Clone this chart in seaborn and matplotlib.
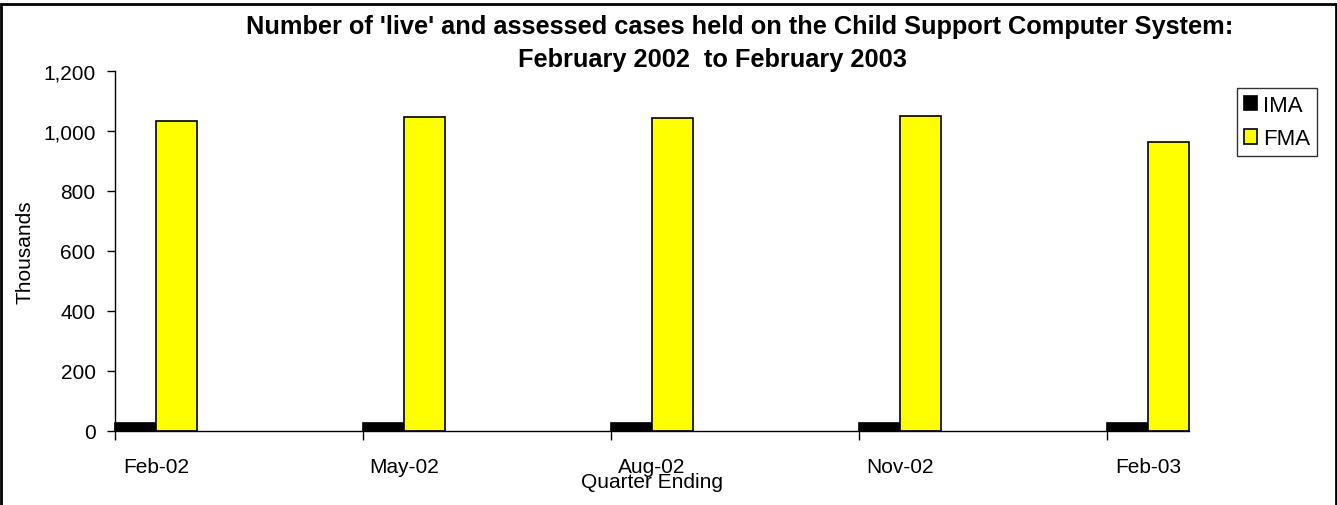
import matplotlib
matplotlib.use("Agg")
import matplotlib.pyplot as plt
import seaborn as sns
import pandas as pd
import numpy as np
from matplotlib.patches import Rectangle

quarters = ["Feb-02", "May-02", "Aug-02", "Nov-02", "Feb-03"]
ima = [28, 28, 28, 28, 28]
fma = [1034, 1048, 1042, 1049, 962]
series = ["IMA", "FMA"]
colors = {"IMA": "#000000", "FMA": "#FFFF00"}
y_ticks = [0, 200, 400, 600, 800, 1000, 1200]

df = pd.DataFrame({
    "pos": list(range(len(quarters))) * 2,
    "Quarter": quarters * 2,
    "value": ima + fma,
    "series": ["IMA"] * len(quarters) + ["FMA"] * len(quarters),
})

sns.set_theme(style="white")
plt.rcParams["font.family"] = ["Liberation Sans", "DejaVu Sans"]
for k in ["text.color", "axes.labelcolor", "xtick.color", "ytick.color"]:
    plt.rcParams[k] = "black"

W, H = 1337, 506
fig = plt.figure(figsize=(W / 100, H / 100), dpi=100)
ax = fig.add_axes([115 / W, 1 - 432 / H, 1074 / W, 360 / H])

w = 0.165
sns.barplot(data=df, x="pos", y="value", hue="series", hue_order=series,
            palette=colors, native_scale=True, width=2 * w,
            edgecolor="black", linewidth=1.2, saturation=1, ax=ax, legend=True)
for p in ax.patches:
    p.set_clip_on(False)

n = len(quarters)
ax.set_xlim(-w, n - 1 + w)
ax.set_ylim(0, 1200)
ax.set_yticks(y_ticks)
ax.set_yticklabels([f"{v:,}" for v in y_ticks], fontsize=15)
ax.set_xticks([i - w for i in range(n)])
ax.set_xticklabels([])
ax.set_xticks(list(range(n)), minor=True)
ax.set_xticklabels(quarters, minor=True, fontsize=15)
ax.tick_params(axis="x", which="major", direction="out", length=6.5, width=1, color="black", bottom=True)
ax.tick_params(axis="x", which="minor", length=0, pad=19)
ax.tick_params(axis="y", direction="out", length=6, width=1, color="black", left=True, pad=8)

for s in ["top", "right"]:
    ax.spines[s].set_visible(False)
for s in ["left", "bottom"]:
    ax.spines[s].set_color("black")
    ax.spines[s].set_linewidth(1.0)

ax.set_ylabel("Thousands", fontsize=15)
ax.yaxis.set_label_coords((25 - 115) / 1074, 0.5)
ax.set_xlabel("Quarter Ending", fontsize=15)
ax.xaxis.set_label_coords(0.5, (432 - 483) / 360)
ax.xaxis.label.set_va("center")
ax.yaxis.label.set_va("center")

handles, labels = ax.get_legend_handles_labels()
leg = ax.legend(handles, labels, loc="upper left",
                bbox_to_anchor=(1237 / W, 1 - 89 / H), bbox_transform=fig.transFigure,
                fontsize=16, frameon=True, fancybox=False, edgecolor="black",
                handlelength=0.6, handleheight=0.6, handletextpad=0.25,
                borderpad=0.32, labelspacing=0.55, borderaxespad=0)
leg.get_frame().set_linewidth(1.0)

fig.text(740 / W, 1 - 27 / H, "Number of 'live' and assessed cases held on the Child Support Computer System:",
         ha="center", va="center", fontsize=18.3, fontweight="bold")
fig.text(712 / W, 1 - 60 / H, "February 2002  to February 2003",
         ha="center", va="center", fontsize=18.3, fontweight="bold")

fig.patches.append(Rectangle((0.5 / W, -0.01), (W - 1.5) / W, 1.0, transform=fig.transFigure,
                             fill=False, edgecolor="black", linewidth=2.0))

fig.savefig("out.png", dpi=100)
